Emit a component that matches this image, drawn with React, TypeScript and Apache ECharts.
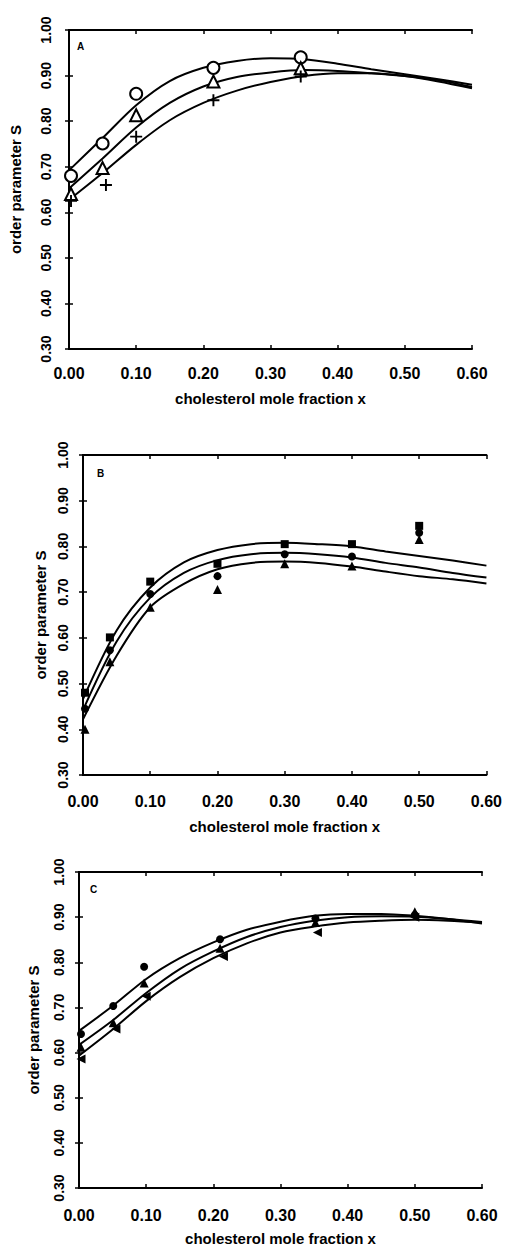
import React, { useEffect, useRef } from "react";
import * as echarts from "echarts";

// x positions at which the fitted curves are sampled
const X_FIT = [0, 0.05, 0.1, 0.15, 0.2, 0.25, 0.3, 0.35, 0.4, 0.45, 0.5, 0.55, 0.6];

// Panel A: measured order parameters
const A_CIRCLE = [[0.003, 0.68], [0.05, 0.751], [0.1, 0.86], [0.215, 0.917], [0.345, 0.94]];
const A_TRIANGLE = [[0.003, 0.64], [0.05, 0.697], [0.1, 0.813], [0.215, 0.887], [0.345, 0.916]];
const A_PLUS = [[0.003, 0.625], [0.055, 0.66], [0.1, 0.766], [0.215, 0.846], [0.345, 0.898]];
// Panel A: fitted curves
const A_FIT_1 = [0.692, 0.763, 0.835, 0.888, 0.917, 0.932, 0.938, 0.936, 0.926, 0.914, 0.903, 0.892, 0.88];
const A_FIT_2 = [0.652, 0.718, 0.786, 0.84, 0.876, 0.897, 0.907, 0.912, 0.91, 0.905, 0.899, 0.89, 0.875];
const A_FIT_3 = [0.627, 0.686, 0.748, 0.802, 0.84, 0.867, 0.886, 0.899, 0.905, 0.905, 0.899, 0.887, 0.872];

// Panel B: measured order parameters
const B_SQUARE = [[0.003, 0.48], [0.04, 0.601], [0.1, 0.723], [0.2, 0.762], [0.3, 0.805], [0.4, 0.805], [0.5, 0.845]];
const B_CIRCLE = [[0.003, 0.445], [0.04, 0.573], [0.1, 0.696], [0.2, 0.735], [0.3, 0.783], [0.4, 0.778], [0.5, 0.83]];
const B_TRIANGLE = [[0.003, 0.4], [0.04, 0.548], [0.1, 0.667], [0.2, 0.706], [0.3, 0.762], [0.4, 0.757], [0.5, 0.815]];
// Panel B: fitted curves
const B_FIT_1 = [0.466, 0.616, 0.71, 0.765, 0.792, 0.805, 0.808, 0.805, 0.8, 0.789, 0.779, 0.769, 0.758];
const B_FIT_2 = [0.442, 0.592, 0.688, 0.742, 0.77, 0.783, 0.786, 0.783, 0.776, 0.764, 0.754, 0.742, 0.732];
const B_FIT_3 = [0.422, 0.561, 0.667, 0.718, 0.75, 0.764, 0.767, 0.764, 0.756, 0.745, 0.735, 0.728, 0.719];

// Panel C: measured order parameters
const C_CIRCLE = [[0.003, 0.641], [0.051, 0.703], [0.097, 0.79], [0.21, 0.851], [0.352, 0.897], [0.5, 0.905]];
const C_TRIANGLE = [[0.003, 0.612], [0.051, 0.666], [0.097, 0.754], [0.21, 0.831], [0.352, 0.888], [0.5, 0.912]];
const C_LEFT_TRIANGLE = [[0.003, 0.586], [0.055, 0.652], [0.1, 0.725], [0.215, 0.813], [0.355, 0.866], [0.5, 0.9]];
// Panel C: fitted curves
const C_FIT_1 = [0.648, 0.703, 0.763, 0.809, 0.844, 0.872, 0.89, 0.903, 0.907, 0.907, 0.903, 0.896, 0.886];
const C_FIT_2 = [0.617, 0.671, 0.732, 0.785, 0.824, 0.856, 0.878, 0.892, 0.9, 0.902, 0.901, 0.896, 0.889];
const C_FIT_3 = [0.593, 0.651, 0.714, 0.767, 0.809, 0.842, 0.866, 0.879, 0.888, 0.892, 0.894, 0.892, 0.888];

const X_NAME = "cholesterol mole fraction x";
const Y_NAME = "order parameter S";
const X_MIN = 0;
const X_MAX = 0.6;
const Y_MIN = 0.3;
const Y_MAX = 1.0;
const STEP = 0.1;

const FONT = "'Liberation Sans', Arial, Helvetica, sans-serif";
const INK = "#000";

const PLUS_PATH = "path://M4.2,0H5.8V4.2H10V5.8H5.8V10H4.2V5.8H0V4.2H4.2Z";

type Marker = { data: number[][]; symbol: string; size: number; rotate?: number; hollow?: boolean };

const panels = [
  {
    letter: "A",
    grid: { left: 68, top: 30, width: 404, height: 319 },
    letterPos: [77, 41],
    labelMarginX: 16,
    labelMarginY: 16,
    nameGapX: 42,
    nameGapY: 46,
    fits: [A_FIT_1, A_FIT_2, A_FIT_3],
    markers: [
      { data: A_CIRCLE, symbol: "emptyCircle", size: 12, hollow: true },
      { data: A_TRIANGLE, symbol: "emptyTriangle", size: 12, hollow: true },
      { data: A_PLUS, symbol: PLUS_PATH, size: 12 },
    ] as Marker[],
  },
  {
    letter: "B",
    grid: { left: 83, top: 455, width: 404, height: 320 },
    letterPos: [97, 468],
    labelMarginX: 18,
    labelMarginY: 13,
    nameGapX: 44,
    nameGapY: 35,
    fits: [B_FIT_1, B_FIT_2, B_FIT_3],
    markers: [
      { data: B_SQUARE, symbol: "rect", size: 8 },
      { data: B_CIRCLE, symbol: "circle", size: 8 },
      { data: B_TRIANGLE, symbol: "triangle", size: 9 },
    ] as Marker[],
  },
  {
    letter: "C",
    grid: { left: 79, top: 872, width: 403, height: 318 },
    letterPos: [90, 884],
    labelMarginX: 19,
    labelMarginY: 13,
    nameGapX: 43,
    nameGapY: 38,
    fits: [C_FIT_1, C_FIT_2, C_FIT_3],
    markers: [
      { data: C_CIRCLE, symbol: "circle", size: 8 },
      { data: C_TRIANGLE, symbol: "triangle", size: 9 },
      { data: C_LEFT_TRIANGLE, symbol: "triangle", size: 9, rotate: 90 },
    ] as Marker[],
  },
];

const fmt = (v: number) => v.toFixed(2);

function buildOption() {
  const grid: any[] = [];
  const xAxis: any[] = [];
  const yAxis: any[] = [];
  const series: any[] = [];
  const graphic: any[] = [];

  panels.forEach((p, i) => {
    grid.push({ ...p.grid, containLabel: false });
    const line = { show: true, lineStyle: { color: INK, width: 2 } };
    const tick = { show: true, inside: true, length: 4, lineStyle: { color: INK, width: 1.5 } };
    const baseX = { type: "value", gridIndex: i, min: X_MIN, max: X_MAX, interval: STEP, splitLine: { show: false }, axisLine: line, axisTick: tick };
    const baseY = { type: "value", gridIndex: i, min: Y_MIN, max: Y_MAX, interval: STEP, splitLine: { show: false }, axisLine: line, axisTick: tick };
    xAxis.push({
      ...baseX,
      position: "bottom",
      name: X_NAME,
      nameLocation: "middle",
      nameGap: p.nameGapX,
      nameTextStyle: { fontFamily: FONT, fontWeight: "bold", fontSize: 15, color: INK },
      axisLabel: { formatter: fmt, margin: p.labelMarginX, fontFamily: FONT, fontWeight: "bold", fontSize: 16, color: INK },
    });
    xAxis.push({ ...baseX, position: "top", axisLabel: { show: false } });
    yAxis.push({
      ...baseY,
      position: "left",
      name: Y_NAME,
      nameLocation: "middle",
      nameGap: p.nameGapY,
      nameRotate: 90,
      nameTextStyle: { fontFamily: FONT, fontWeight: "bold", fontSize: 15, color: INK },
      axisLabel: { formatter: fmt, rotate: 90, margin: p.labelMarginY, fontFamily: FONT, fontWeight: "bold", fontSize: 14, color: INK },
    });
    yAxis.push({ ...baseY, position: "right", axisLabel: { show: false } });

    p.fits.forEach((ys) => {
      series.push({
        type: "line",
        xAxisIndex: 2 * i,
        yAxisIndex: 2 * i,
        data: X_FIT.map((x, k) => [x, ys[k]]),
        smooth: 0.3,
        symbol: "none",
        lineStyle: { color: INK, width: 2 },
        z: 2,
      });
    });
    p.markers.forEach((m) => {
      series.push({
        type: "scatter",
        xAxisIndex: 2 * i,
        yAxisIndex: 2 * i,
        data: m.data,
        symbol: m.symbol,
        symbolSize: m.size,
        symbolRotate: m.rotate || 0,
        itemStyle: m.hollow
          ? { color: INK, borderColor: INK, borderWidth: 1.6, opacity: 1 }
          : { color: INK, opacity: 1 },
        z: 3,
      });
    });

    graphic.push({
      type: "text",
      left: p.letterPos[0],
      top: p.letterPos[1],
      style: { text: p.letter, fontFamily: FONT, fontWeight: "bold", fontSize: 10, fill: INK },
    });
  });

  return { animation: false, backgroundColor: "#fff", grid, xAxis, yAxis, series, graphic };
}

export default function App() {
  const ref = useRef<HTMLDivElement>(null);
  useEffect(() => {
    if (!ref.current) return;
    const chart = echarts.init(ref.current, undefined, { renderer: "svg" });
    chart.setOption(buildOption() as any);
    return () => chart.dispose();
  }, []);
  return (
    <div
      ref={ref}
      style={{ position: "absolute", left: 0, top: 0, width: 505, height: 1247, background: "#fff" }}
    />
  );
}
